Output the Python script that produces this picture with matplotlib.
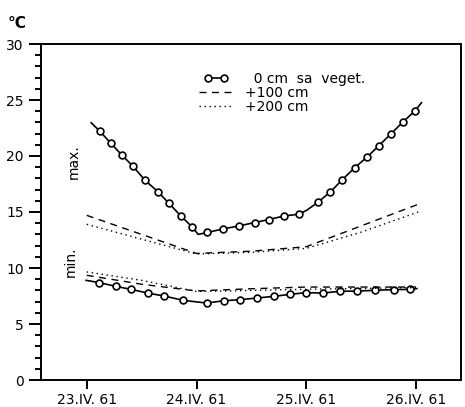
import matplotlib
matplotlib.use("Agg")
import matplotlib.pyplot as plt
from matplotlib.ticker import MultipleLocator
from matplotlib.legend_handler import HandlerLine2D

# ---- data (x in days after 23.IV.61, values in °C) ----
max0_x = [0.04, 0.12, 0.22, 0.32, 0.42, 0.53, 0.65, 0.75, 0.86, 0.96, 1.015,
          1.10, 1.24, 1.39, 1.53, 1.66, 1.80, 1.93, 2.005, 2.11, 2.22, 2.33,
          2.44, 2.55, 2.66, 2.77, 2.88, 2.99, 3.05]
max0_y = [22.97, 22.2, 21.13, 20.08, 19.1, 17.84, 16.8, 15.76, 14.62, 13.67, 13.0,
          13.17, 13.49, 13.76, 14.06, 14.33, 14.65, 14.8, 15.16, 15.9, 16.8, 17.9,
          18.94, 19.87, 20.91, 21.96, 23.03, 24.02, 24.76]
max0_marks = [1, 2, 3, 4, 5, 6, 7, 8, 9, 11, 12, 13, 14, 15, 16, 17,
              19, 20, 21, 22, 23, 24, 25, 26, 27]

min0_x = [-0.006, 0.115, 0.267, 0.404, 0.556, 0.705, 0.881, 1.094, 1.252, 1.397,
          1.55, 1.707, 1.853, 1.999, 2.151, 2.303, 2.461, 2.628, 2.795, 2.941, 3.008]
min0_y = [8.9, 8.69, 8.36, 8.09, 7.76, 7.5, 7.11, 6.87, 7.08, 7.17,
          7.32, 7.47, 7.65, 7.8, 7.76, 7.92, 7.94, 8.01, 8.07, 8.09, 8.16]
min0_marks = list(range(1, 20))

max100_x = [0.0, 1.0, 1.5, 2.0, 3.05]
max100_y = [14.7, 11.3, 11.5, 11.9, 15.8]
max200_x = [0.0, 1.0, 1.5, 2.0, 2.5, 3.05]
max200_y = [13.9, 11.25, 11.4, 11.75, 13.2, 15.1]

min100_x = [0.0, 0.5, 1.0, 1.5, 2.0, 3.0]
min100_y = [9.35, 8.55, 7.95, 8.15, 8.3, 8.3]
min200_x = [0.0, 0.5, 1.0, 1.5, 2.0, 3.0]
min200_y = [9.65, 8.9, 7.9, 8.0, 8.1, 8.25]

xtick_pos = [0, 1, 2, 3]
xtick_labels = ["23.IV. 61", "24.IV. 61", "25.IV. 61", "26.IV. 61"]
legend_labels = ["  0 cm  sa  veget.", "+100 cm", "+200 cm"]

# ---- figure ----
W, H = 465, 407
fig = plt.figure(figsize=(W / 100, H / 100), dpi=100)
ax = fig.add_axes([41 / W, 1 - 380 / H, (461 - 41) / W, (380 - 44) / H])

lw = 1.2
dash = (0, (5, 4))
dot = (0, (1, 2.6))

l0, = ax.plot(max0_x, max0_y, color="black", lw=lw, marker="o", ms=4.9,
              mfc="white", mec="black", mew=1.2, markevery=max0_marks)
ax.plot(min0_x, min0_y, color="black", lw=lw, marker="o", ms=4.9,
        mfc="white", mec="black", mew=1.2, markevery=min0_marks)
l1, = ax.plot(max100_x, max100_y, color="black", lw=1.0, linestyle=dash)
ax.plot(min100_x, min100_y, color="black", lw=1.0, linestyle=dash)
l2, = ax.plot(max200_x, max200_y, color="black", lw=1.0, linestyle=dot)
ax.plot(min200_x, min200_y, color="black", lw=1.0, linestyle=dot)

ax.set_xlim(-0.417, 3.41)
ax.set_ylim(0, 30)
ax.set_xticks(xtick_pos)
ax.set_xticklabels(xtick_labels)
ax.yaxis.set_major_locator(MultipleLocator(5))
ax.yaxis.set_minor_locator(MultipleLocator(1))
ax.tick_params(axis="y", which="major", direction="out", length=9, width=1.4,
               labelsize=10, pad=3.5)
ax.tick_params(axis="y", which="minor", direction="out", length=4.5, width=1.4)
ax.tick_params(axis="x", which="major", direction="out", length=6.5, width=1.4,
               labelsize=10, pad=3)
for s in ax.spines.values():
    s.set_linewidth(1.4)

# legend
leg = ax.legend([l0, l1, l2], legend_labels, loc="upper left",
                bbox_to_anchor=(195 / W, 1 - 72 / H), bbox_transform=fig.transFigure,
                frameon=False, fontsize=10, handlelength=3.0, handletextpad=0.6,
                labelspacing=0.0, borderpad=0, borderaxespad=0, numpoints=2,
                handler_map={l0: HandlerLine2D(marker_pad=0.9)})

# labels
ax.text(74 / W, 1 - 162 / H, "max.", transform=fig.transFigure, rotation=90,
        ha="center", va="center", fontsize=10)
ax.text(71 / W, 1 - 262 / H, "min.", transform=fig.transFigure, rotation=90,
        ha="center", va="center", fontsize=10)
fig.text(8 / W, 1 - 28 / H, "°C", fontsize=11, fontweight="bold",
         ha="left", va="baseline")

fig.savefig("out.png", dpi=100)
